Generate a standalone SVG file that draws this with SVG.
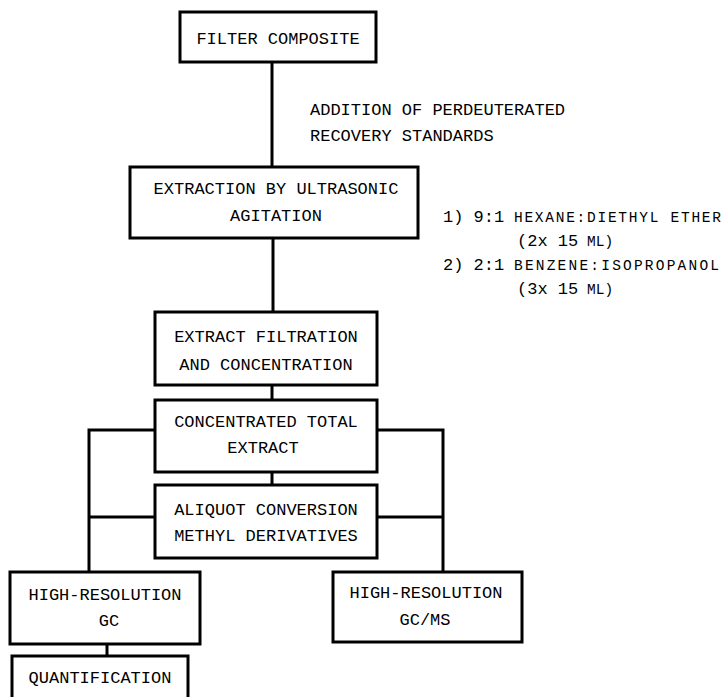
<svg xmlns="http://www.w3.org/2000/svg" width="725" height="697" viewBox="0 0 725 697">
<style>
.box{fill:#fff;stroke:#000;stroke-width:3}
.c{fill:none;stroke:#000;stroke-width:3}
.t{font-family:"Liberation Mono","DejaVu Sans Mono",monospace;font-size:17px;fill:#000;text-anchor:middle}
.a{font-family:"Liberation Mono","DejaVu Sans Mono",monospace;font-size:17px;fill:#000}
.s{font-family:"Liberation Mono","DejaVu Sans Mono",monospace;font-size:14.5px;fill:#000}
</style>
<rect width="725" height="697" fill="#fff"/>
<g id="connectors">
<line class="c" x1="272" y1="62" x2="272" y2="167"/>
<line class="c" x1="273" y1="238" x2="273" y2="312"/>
<line class="c" x1="272" y1="385" x2="272" y2="400"/>
<line class="c" x1="272" y1="472" x2="272" y2="485"/>
<polyline class="c" points="155,430 89,430 89,572"/>
<polyline class="c" points="377,430 443,430 443,572"/>
<line class="c" x1="89" y1="517" x2="155" y2="517"/>
<line class="c" x1="377" y1="517" x2="443" y2="517"/>
<line class="c" x1="107" y1="644" x2="107" y2="656"/>
</g>
<g id="filter-composite">
<rect class="box" x="180" y="12" width="196" height="50"/>
<text class="t" x="278" y="44">FILTER COMPOSITE</text>
</g>
<g id="addition-note">
<text class="a" x="310" y="115">ADDITION OF PERDEUTERATED</text>
<text class="a" x="310" y="141">RECOVERY STANDARDS</text>
</g>
<g id="extraction">
<rect class="box" x="130" y="167" width="288" height="71"/>
<text class="t" x="276" y="194">EXTRACTION BY ULTRASONIC</text>
<text class="t" x="276" y="221">AGITATION</text>
</g>
<g id="solvents-note">
<text class="a" x="443" y="222">1) 9:1</text>
<text class="s" x="514" y="222" textLength="207" lengthAdjust="spacing">HEXANE:DIETHYL ETHER</text>
<text class="a" x="517" y="246">(2x 15</text>
<text class="s" x="587" y="246">ML)</text>
<text class="a" x="443" y="270">2) 2:1</text>
<text class="s" x="514" y="270" textLength="205" lengthAdjust="spacing">BENZENE:ISOPROPANOL</text>
<text class="a" x="517" y="294">(3x 15</text>
<text class="s" x="587" y="294">ML)</text>
</g>
<g id="extract-filtration">
<rect class="box" x="155" y="312" width="222" height="73"/>
<text class="t" x="266" y="342">EXTRACT FILTRATION</text>
<text class="t" x="266" y="370">AND CONCENTRATION</text>
</g>
<g id="concentrated-total-extract">
<rect class="box" x="155" y="400" width="222" height="72"/>
<text class="t" x="266" y="427">CONCENTRATED TOTAL</text>
<text class="t" x="263" y="453">EXTRACT</text>
</g>
<g id="aliquot-conversion">
<rect class="box" x="155" y="485" width="222" height="73"/>
<text class="t" x="266" y="515">ALIQUOT CONVERSION</text>
<text class="t" x="266" y="541">METHYL DERIVATIVES</text>
</g>
<g id="hr-gc">
<rect class="box" x="10" y="572" width="190" height="72"/>
<text class="t" x="105" y="600">HIGH-RESOLUTION</text>
<text class="t" x="109" y="626">GC</text>
</g>
<g id="hr-gcms">
<rect class="box" x="333" y="572" width="189" height="70"/>
<text class="t" x="426" y="598">HIGH-RESOLUTION</text>
<text class="t" x="425" y="625">GC/MS</text>
</g>
<g id="quantification">
<rect class="box" x="12" y="656" width="176" height="50"/>
<text class="t" x="100" y="683">QUANTIFICATION</text>
</g>
</svg>
